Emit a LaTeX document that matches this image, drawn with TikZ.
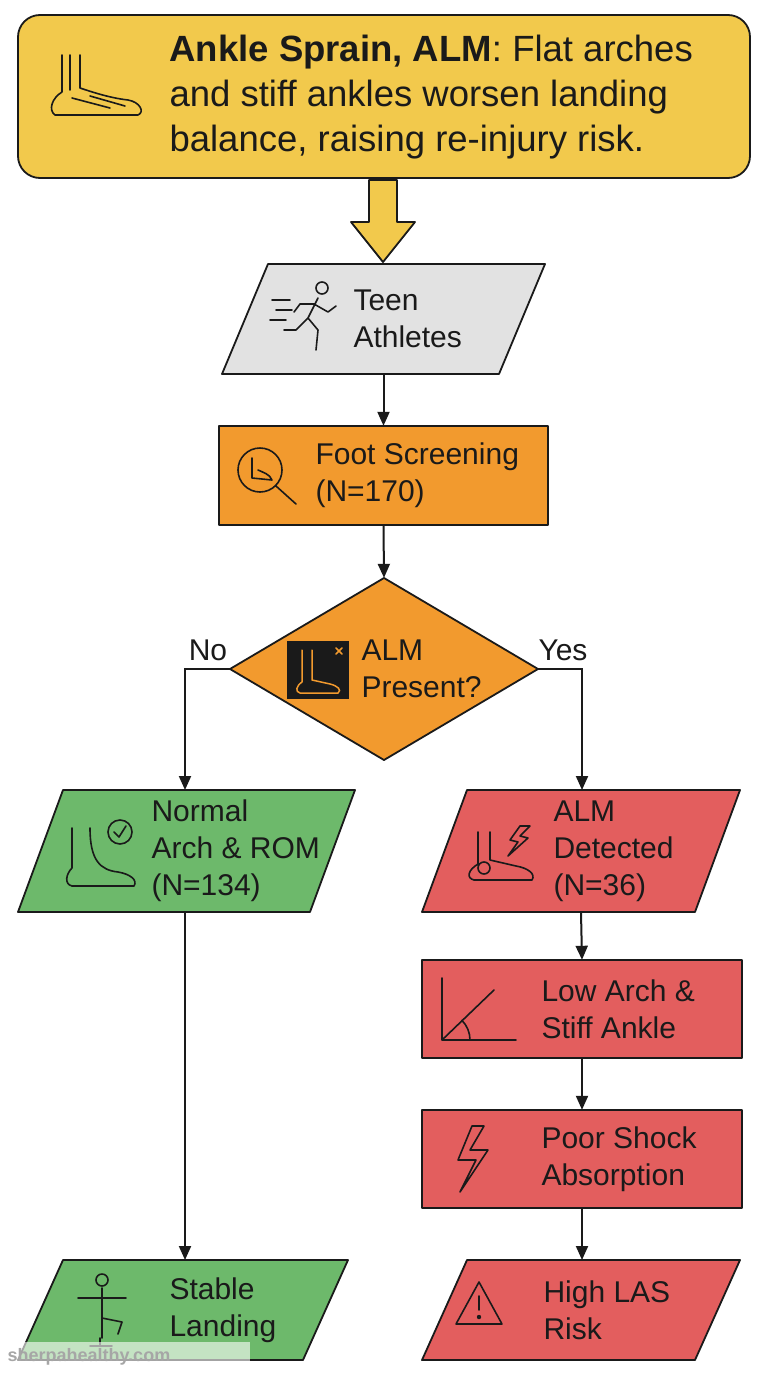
\documentclass[tikz,border=0pt]{standalone}
\usepackage{fontspec}
\setmainfont{Liberation Sans}
\usetikzlibrary{arrows.meta}
\definecolor{yel}{HTML}{F2C94C}
\definecolor{gry}{HTML}{E2E2E2}
\definecolor{org}{HTML}{F29A2E}
\definecolor{grn}{HTML}{6DB96B}
\definecolor{red1}{HTML}{E35E5E}
\definecolor{ink}{HTML}{1A1A1A}
\begin{document}
\begin{tikzpicture}[x=1pt,y=-1pt,
  box/.style={draw=none,inner sep=0pt},
  shp/.style={draw=ink,line width=1.8pt,line join=round},
  txt/.style={font=\fontsize{30}{37}\selectfont,align=left,anchor=west,text=ink},
  arr/.style={draw=ink,line width=2pt,-{Triangle[length=14pt,width=12pt]}},
  ic/.style={draw=ink,line width=1.6pt,line cap=round,line join=round}]
\useasboundingbox (0,0) rectangle (768,1376);
\fill[white] (0,0) rectangle (768,1376);
% title
\draw[shp,fill=yel,rounded corners=22pt] (18,15) rectangle (750,178);
\node[box,minimum width=732pt,minimum height=163pt] (title) at (384,96.5) {};
\node[txt,font=\fontsize{36.5}{45}\selectfont] at (166,97) {\textbf{Ankle Sprain, ALM}: Flat arches\\and stiff ankles worsen landing\\balance, raising re-injury risk.};
% foot icon
\draw[ic] (62,55)--(62,92) (80,55)--(80,88) (62,92) .. controls (52,98) and (48,110) .. (55,115) -- (138,115) .. controls (145,112) and (140,102) .. (128,100) .. controls (110,98) and (92,92) .. (80,88) (70,55)--(70,90) (72,98)--(110,108) (90,96)--(125,106);
% big arrow
\draw[shp,fill=yel] (369,180)--(397,180)--(397,222)--(415,222)--(383,262)--(351,222)--(369,222)--cycle;
% teen
\draw[shp,fill=gry] (268,264)--(545,264)--(499,374)--(222,374)--cycle;
\node[box,minimum width=323pt,minimum height=110pt] (teen) at (383.5,319) {};
\node[txt] at (350,319) {Teen\\Athletes};
\draw[ic] (322,288) circle (6) (318,298)--(308,318)--(318,330)--(316,350) (308,318)--(296,330)--(284,330) (314,304)--(328,312)--(336,306) (314,304)--(300,304)--(294,312) (272,300)--(290,300) (276,310)--(292,310) (270,320)--(286,320);
% foot screening
\draw[shp,fill=org] (219,426) rectangle (548,525);
\node[box,minimum width=329pt,minimum height=99pt] (screen) at (383.5,475.5) {};
\node[txt] at (312,475) {Foot Screening\\(N=170)};
\draw[ic] (260,470) circle (22) (276,486)--(296,504) (252,458)--(252,478)--(272,480) .. controls (270,474) and (262,472) .. (258,470);
% diamond
\node[box,minimum width=308pt,minimum height=182pt] (dec) at (384,669) {};
\draw[shp,fill=org] (384,578)--(538,669)--(384,760)--(230,669)--cycle;
\node[txt] at (358,669) {ALM\\Present?};
\fill[ink] (287,641) rectangle (349,699);
\draw[draw=org,line width=1.5pt,line cap=round] (302,650)--(302,682) (312,650)--(312,680) (302,682) .. controls (296,686) and (295,692) .. (300,693)--(338,693) .. controls (342,690) and (338,686) .. (330,684)--(312,680) (336,648)--(342,654) (342,648)--(336,654);
% normal
\draw[shp,fill=grn] (63,790)--(355,790)--(310,912)--(18,912)--cycle;
\node[box,minimum width=337pt,minimum height=122pt] (normal) at (186.5,851) {};
\node[txt] at (148,851) {Normal\\Arch \& ROM\\(N=134)};
\draw[ic] (72,828)--(72,868) .. controls (66,874) and (64,884) .. (72,886)--(134,886) .. controls (138,880) and (130,874) .. (118,872) .. controls (100,870) and (90,860) .. (90,828) (120,832) circle (12) (114,832)--(119,837)--(126,826);
% ALM detected
\draw[shp,fill=red1] (467,790)--(740,790)--(695,912)--(422,912)--cycle;
\node[box,minimum width=318pt,minimum height=122pt] (alm) at (581,851) {};
\node[txt] at (550,851) {ALM\\Detected\\(N=36)};
\draw[ic] (478,832)--(478,864) (490,832)--(490,860) (478,864) .. controls (468,870) and (466,878) .. (474,880)--(532,880) .. controls (536,874) and (528,868) .. (516,866)--(490,860) (484,868) circle (6) (520,826)--(510,840)--(518,842)--(508,856)--(528,838)--(520,836)--(530,826)--cycle;
% low arch
\draw[shp,fill=red1] (422,960) rectangle (742,1058);
\node[box,minimum width=320pt,minimum height=98pt] (low) at (582,1009) {};
\node[txt] at (538,1009) {Low Arch \&\\Stiff Ankle};
\draw[ic] (442,978)--(442,1040)--(516,1040) (442,1040)--(494,990) (470,1040) arc (0:-45:28);
% poor shock
\draw[shp,fill=red1] (422,1110) rectangle (742,1208);
\node[box,minimum width=320pt,minimum height=98pt] (shock) at (582,1159) {};
\node[txt] at (538,1159) {Poor Shock\\Absorption};
\draw[ic] (472,1126)--(458,1160)--(476,1160)--(460,1192)--(488,1150)--(470,1150)--(484,1126)--cycle;
% high LAS
\draw[shp,fill=red1] (467,1260)--(740,1260)--(695,1360)--(422,1360)--cycle;
\node[box,minimum width=318pt,minimum height=100pt] (high) at (581,1310) {};
\node[txt] at (540,1310) {High LAS\\Risk};
\draw[ic] (479,1282)--(502,1324)--(456,1324)--cycle (479,1296)--(479,1310);
\fill[ink] (479,1317) circle (2.2);
% stable
\draw[shp,fill=grn] (63,1260)--(348,1260)--(303,1360)--(18,1360)--cycle;
\node[box,minimum width=330pt,minimum height=100pt] (stable) at (183,1310) {};
\node[txt] at (166,1310) {Stable\\Landing};
\draw[ic] (102,1280) circle (6) (102,1288)--(102,1338) (78,1298)--(126,1298) (102,1318)--(122,1322)--(118,1334) (100,1338)--(100,1346) (90,1346)--(112,1346);
% connectors
\draw[arr] (teen.south)--(screen.north);
\draw[arr] (screen.south)--(dec.north);
\draw[arr] (dec.west)--(185,669)--(185,790);
\draw[arr] (dec.east)--(582,669)--(582,790);
\node[txt,anchor=center] at (208,650) {No};
\node[txt,anchor=center] at (563,650) {Yes};
\draw[arr] (185,912)--(185,1260);
\draw[arr] (alm.south)--(low.north);
\draw[arr] (low.south)--(shock.north);
\draw[arr] (shock.south)--(582,1260);
% watermark
\fill[white,opacity=0.6] (0,1342) rectangle (250,1372);
\node[font=\fontsize{18}{20}\selectfont\bfseries,text=gray!70,anchor=west] at (4,1357) {sherpahealthy.com};
\end{tikzpicture}
\end{document}
